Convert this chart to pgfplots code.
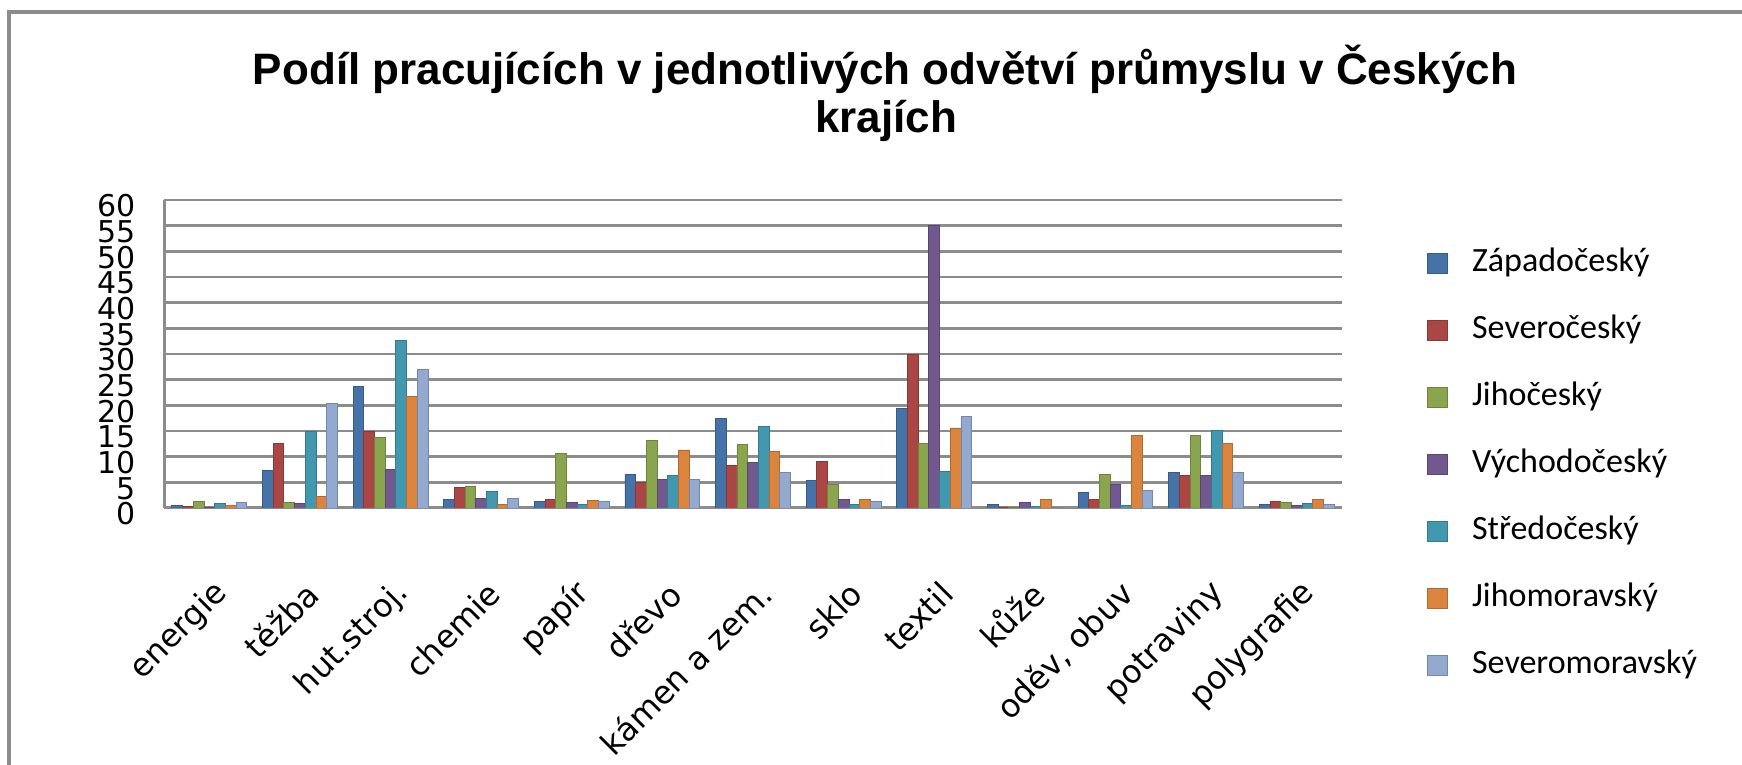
\documentclass[border=0pt]{standalone}
\usepackage{fontspec}
\usepackage{pgfplots}
\pgfplotsset{compat=1.18}
\newfontfamily\titlefont{Liberation Sans}
\newfontfamily\tickfont{DejaVu Sans}
\newfontfamily\legfont{Carlito}
\definecolor{cZ}{HTML}{4572A7}
\definecolor{cS}{HTML}{AA4643}
\definecolor{cJ}{HTML}{89A54E}
\definecolor{cV}{HTML}{71588F}
\definecolor{cSt}{HTML}{4198AF}
\definecolor{cJM}{HTML}{DB843D}
\definecolor{cSM}{HTML}{93A9CF}
\definecolor{gridc}{HTML}{8C8C8C}
\begin{document}
\begin{tikzpicture}
\clip (0,0) rectangle (871pt,382.5pt);
\fill[white] (0,0) rectangle (871pt,382.5pt);
\draw[gridc, line width=1.8pt] (4.5pt,-20pt) -- (4.5pt,376.5pt) -- (900pt,376.5pt);
\node[anchor=base, font=\titlefont\bfseries\fontsize{22}{24}\selectfont] at (442.5pt,340pt) {Podíl pracujících v jednotlivých odvětví průmyslu v Českých};
\node[anchor=base, font=\titlefont\bfseries\fontsize{22}{24}\selectfont] at (443pt,316pt) {krajích};
\begin{axis}[
  at={(82pt,128.5pt)}, anchor=south west,
  scale only axis, width=589pt, height=154pt,
  xmin=-0.5, xmax=12.5, ymin=0, ymax=60,
  ybar=0pt, bar width=0.118,
  axis x line*=bottom, axis y line*=left,
  axis line style={gridc, line width=1.5pt},
  ymajorgrids, grid style={gridc, line width=1.4pt},
  ytick={0,5,...,60},
  major tick length=0pt,
  xtick={0,...,12},
  xticklabels={energie, těžba, hut.stroj., chemie, papír, dřevo, kámen a zem., sklo, textil, kůže, {oděv, obuv}, potraviny, polygrafie},
  xticklabel style={font=\tickfont\fontsize{16}{16}\selectfont, yshift=-40pt, xshift=6.5pt, rotate=45, anchor=east, inner sep=0pt},
  yticklabel style={font=\tickfont\fontsize{15}{15}\selectfont, anchor=east, xshift=-14pt, yshift=-3pt, inner sep=0pt},
  /pgf/number format/assume math mode=true,
  legend style={draw=none, fill=none, at={(1.067,0.86)}, anchor=north west,
    font=\legfont\fontsize{17}{17}\selectfont, row sep=17.5pt,
    nodes={inner ysep=0pt, inner xsep=4pt, text height=12pt, text depth=4pt}},
  legend cell align=left,
  legend image code/.code={\fill[#1] (0pt,-5pt) rectangle (10pt,5pt); \path (18pt,0pt);},
]
\addplot[fill=cZ, draw=cZ!80!black] coordinates {(0,0.5)(1,7.3)(2,23.6)(3,1.7)(4,1.2)(5,6.6)(6,17.4)(7,5.3)(8,19.4)(9,0.7)(10,3.1)(11,7.0)(12,0.7)};
\addplot[fill=cS, draw=cS!80!black] coordinates {(0,0.3)(1,12.6)(2,15.0)(3,4.0)(4,1.7)(5,5.0)(6,8.3)(7,9.1)(8,30.0)(9,0.2)(10,1.7)(11,6.4)(12,1.3)};
\addplot[fill=cJ, draw=cJ!80!black] coordinates {(0,1.2)(1,1.0)(2,13.8)(3,4.3)(4,10.7)(5,13.2)(6,12.3)(7,4.5)(8,12.6)(9,0.1)(10,6.6)(11,14.1)(12,1.1)};
\addplot[fill=cV, draw=cV!80!black] coordinates {(0,0.2)(1,0.9)(2,7.5)(3,1.8)(4,1.1)(5,5.5)(6,8.8)(7,1.7)(8,55.0)(9,1.0)(10,4.5)(11,6.4)(12,0.5)};
\addplot[fill=cSt, draw=cSt!80!black] coordinates {(0,0.8)(1,14.9)(2,32.6)(3,3.3)(4,0.7)(5,6.4)(6,15.9)(7,0.7)(8,7.2)(9,0.3)(10,0.5)(11,15.1)(12,0.8)};
\addplot[fill=cJM, draw=cJM!80!black] coordinates {(0,0.5)(1,2.2)(2,21.7)(3,0.7)(4,1.5)(5,11.3)(6,11.1)(7,1.7)(8,15.6)(9,1.7)(10,14.1)(11,12.5)(12,1.7)};
\addplot[fill=cSM, draw=cSM!80!black] coordinates {(0,1.0)(1,20.4)(2,27.0)(3,1.8)(4,1.3)(5,5.6)(6,7.0)(7,1.3)(8,17.9)(9,0.1)(10,3.4)(11,7.0)(12,0.7)};
\legend{Západočeský, Severočeský, Jihočeský, Východočeský, Středočeský, Jihomoravský, Severomoravský}
\end{axis}
\end{tikzpicture}
\end{document}
